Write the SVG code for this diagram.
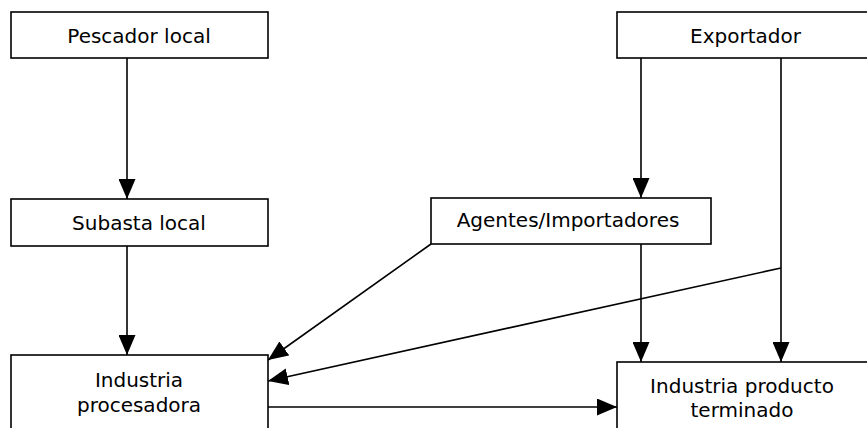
<svg xmlns="http://www.w3.org/2000/svg" width="867" height="428" viewBox="0 0 867 428">
<defs>
<marker id="arr" markerUnits="userSpaceOnUse" markerWidth="20" markerHeight="17" refX="20" refY="8.5" orient="auto">
<path d="M0,0 L20,8.5 L0,17 z" fill="#000"/>
</marker>
<style>
.box{fill:#fff;stroke:#000;stroke-width:1.6}
.lbl{font-family:"DejaVu Sans",Verdana,sans-serif;font-size:20px;fill:#000;text-anchor:middle}
.c{fill:none;stroke:#000;stroke-width:1.6}
.a{marker-end:url(#arr)}
</style>
</defs>
<rect width="867" height="428" fill="#fff"/>
<g id="connectors">
<line class="c a" x1="127" y1="58" x2="127" y2="199"/>
<line class="c a" x1="641" y1="58" x2="641" y2="198"/>
<line class="c a" x1="781" y1="58" x2="781" y2="362"/>
<line class="c a" x1="127" y1="246" x2="127" y2="355"/>
<line class="c a" x1="641" y1="244" x2="641" y2="362"/>
<line class="c a" x1="431" y1="244" x2="268" y2="360"/>
<polyline class="c a" points="781,268 268,381"/>
<line class="c a" x1="268" y1="407" x2="617" y2="407"/>
</g>
<g id="pescador">
<rect class="box" x="11" y="12" width="257" height="46"/>
<text class="lbl" x="139" y="43">Pescador local</text>
</g>
<g id="exportador">
<rect class="box" x="617" y="12" width="257" height="46"/>
<text class="lbl" x="745.5" y="43">Exportador</text>
</g>
<g id="subasta">
<rect class="box" x="11" y="199" width="257" height="47"/>
<text class="lbl" x="139" y="230">Subasta local</text>
</g>
<g id="agentes">
<rect class="box" x="431" y="198" width="280" height="46"/>
<text class="lbl" x="568" y="227">Agentes/Importadores</text>
</g>
<g id="procesadora">
<rect class="box" x="11" y="355" width="257" height="80"/>
<text class="lbl" x="139" y="387">Industria</text>
<text class="lbl" x="139" y="412">procesadora</text>
</g>
<g id="terminado">
<rect class="box" x="617" y="362" width="257" height="80"/>
<text class="lbl" x="742" y="393">Industria producto</text>
<text class="lbl" x="742" y="417">terminado</text>
</g>
</svg>
